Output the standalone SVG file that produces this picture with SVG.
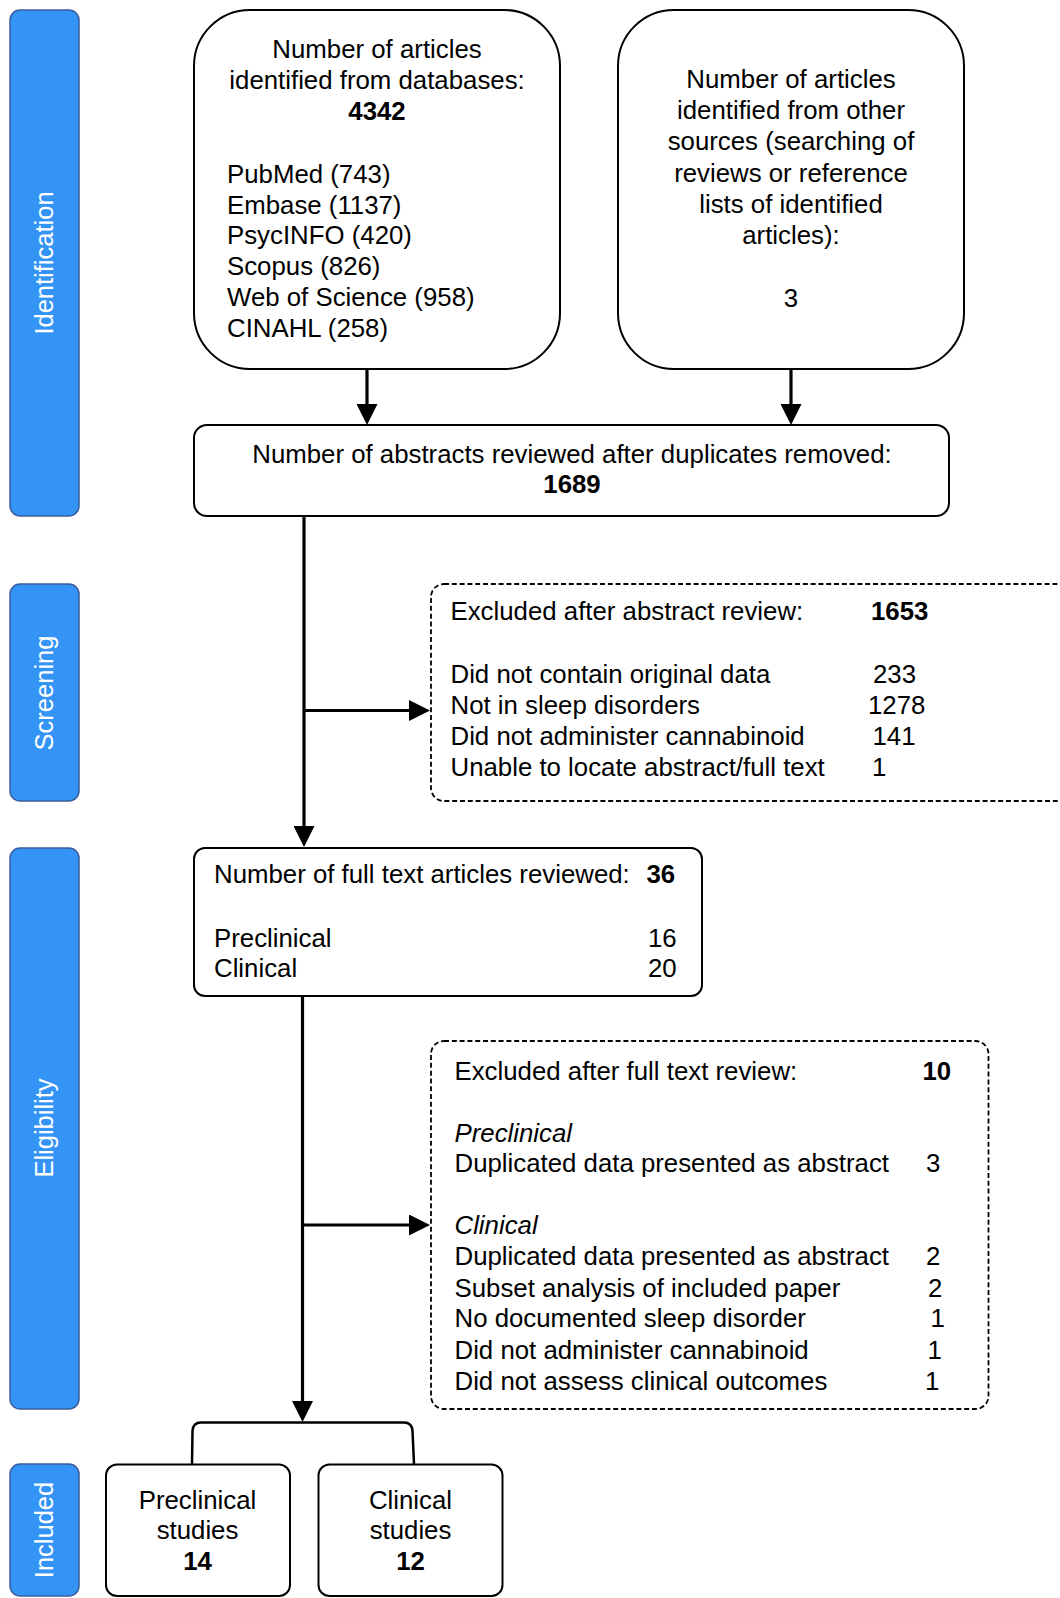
<svg xmlns="http://www.w3.org/2000/svg" width="1060" height="1598" viewBox="0 0 1060 1598">
<defs>
<marker id="ah" markerUnits="userSpaceOnUse" markerWidth="21" markerHeight="21" refX="0" refY="10.5" orient="auto">
<path d="M0,0 L21,10.5 L0,21 z" fill="#000"/>
</marker>
<style>
text{font-family:"Liberation Sans",Arial,Helvetica,sans-serif;font-size:25.8px;fill:#000}
.c{text-anchor:middle}
.b{font-weight:bold}
.i{font-style:italic}
.lane rect{fill:#3494f6;stroke:#3a5c9c;stroke-width:1.5}
.lane text{fill:#fff;text-anchor:middle;font-size:25.5px}
.box{fill:#fff;stroke:#000;stroke-width:2}
.dash{fill:#fff;stroke:#000;stroke-width:1.8;stroke-dasharray:5 2.8}
.arr{stroke:#000;stroke-width:3.2;fill:none;marker-end:url(#ah)}
.br{stroke:#000;stroke-width:2.5;fill:none}
</style>
</defs>
<rect width="1060" height="1598" fill="#fff"/>

<g id="lane-identification" class="lane">
<rect x="10" y="10" width="69" height="506" rx="10"/>
<text transform="translate(53,263) rotate(-90)">Identification</text>
</g>
<g id="lane-screening" class="lane">
<rect x="10" y="584" width="69" height="217" rx="10"/>
<text transform="translate(53,693) rotate(-90)">Screening</text>
</g>
<g id="lane-eligibility" class="lane">
<rect x="10" y="848" width="69" height="561" rx="10"/>
<text transform="translate(53,1128) rotate(-90)">Eligibility</text>
</g>
<g id="lane-included" class="lane">
<rect x="10" y="1464" width="69" height="132" rx="10"/>
<text transform="translate(53,1530) rotate(-90)">Included</text>
</g>

<g id="connectors">
<line class="arr" x1="367" y1="369" x2="367" y2="404"/>
<line class="arr" x1="791" y1="369" x2="791" y2="404"/>
<line class="arr" x1="304" y1="516" x2="304" y2="826"/>
<line class="arr" x1="304" y1="710.5" x2="409" y2="710.5"/>
<line class="arr" x1="302.5" y1="996" x2="302.5" y2="1401"/>
<line class="arr" x1="302.5" y1="1225" x2="409" y2="1225"/>
<path class="br" d="M192,1464 L192.5,1431 Q193,1422.5 201,1422.5 L404,1422.5 Q412,1422.5 412.5,1431 L414,1464"/>
</g>

<g id="node-databases">
<rect class="box" x="194" y="10" width="366" height="359" rx="56"/>
<text class="c" x="377" y="58">Number of articles</text>
<text class="c" x="377" y="88.5">identified from databases:</text>
<text class="c b" x="377" y="120">4342</text>
<text x="227" y="182.5">PubMed (743)</text>
<text x="227" y="213.5">Embase (1137)</text>
<text x="227" y="244.3">PsycINFO (420)</text>
<text x="227" y="275.2">Scopus (826)</text>
<text x="227" y="306.1">Web of Science (958)</text>
<text x="227" y="337">CINAHL (258)</text>
</g>

<g id="node-other">
<rect class="box" x="618" y="10" width="346" height="359" rx="56"/>
<text class="c" x="791" y="88.3">Number of articles</text>
<text class="c" x="791" y="118.8">identified from other</text>
<text class="c" x="791" y="150">sources (searching of</text>
<text class="c" x="791" y="181.5">reviews or reference</text>
<text class="c" x="791" y="213">lists of identified</text>
<text class="c" x="791" y="244">articles):</text>
<text class="c" x="791" y="306.5">3</text>
</g>

<g id="node-abstracts">
<rect class="box" x="194" y="425" width="755" height="91" rx="13"/>
<text class="c" x="572" y="463.3">Number of abstracts reviewed after duplicates removed:</text>
<text class="c b" x="572" y="493.3">1689</text>
</g>

<g id="node-excluded-abstract">
<rect class="dash" x="431" y="584" width="650" height="217" rx="13"/>
<text x="450.5" y="620">Excluded after abstract review:</text>
<text class="b" x="871" y="620">1653</text>
<text x="450.5" y="683.3">Did not contain original data</text>
<text x="873" y="683.3">233</text>
<text x="450.5" y="713.8">Not in sleep disorders</text>
<text x="868" y="713.8">1278</text>
<text x="450.5" y="745">Did not administer cannabinoid</text>
<text x="872.5" y="745">141</text>
<text x="450.5" y="775.5">Unable to locate abstract/full text</text>
<text x="872" y="775.5">1</text>
</g>

<g id="node-fulltext">
<rect class="box" x="194" y="848" width="508" height="148" rx="11"/>
<text x="214" y="883.3">Number of full text articles reviewed:</text>
<text class="b" x="646.5" y="883.3">36</text>
<text x="214" y="946.5">Preclinical</text>
<text x="648" y="946.5">16</text>
<text x="214" y="977">Clinical</text>
<text x="648" y="977">20</text>
</g>

<g id="node-excluded-fulltext">
<rect class="dash" x="431" y="1041" width="557.5" height="368" rx="13"/>
<text x="454.5" y="1079.5">Excluded after full text review:</text>
<text class="b" x="922.5" y="1079.5">10</text>
<text class="i" x="454.5" y="1141.5">Preclinical</text>
<text x="454.5" y="1172">Duplicated data presented as abstract</text>
<text x="926" y="1172">3</text>
<text class="i" x="454.5" y="1234">Clinical</text>
<text x="454.5" y="1265">Duplicated data presented as abstract</text>
<text x="926" y="1265">2</text>
<text x="454.5" y="1296.5">Subset analysis of included paper</text>
<text x="928" y="1296.5">2</text>
<text x="454.5" y="1327">No documented sleep disorder</text>
<text x="930.5" y="1327">1</text>
<text x="454.5" y="1358.5">Did not administer cannabinoid</text>
<text x="927.5" y="1358.5">1</text>
<text x="454.5" y="1389.5">Did not assess clinical outcomes</text>
<text x="925" y="1389.5">1</text>
</g>

<g id="node-preclinical-studies">
<rect class="box" x="106" y="1464.5" width="184" height="131.5" rx="11"/>
<text class="c" x="197.5" y="1508.5">Preclinical</text>
<text class="c" x="197.5" y="1538.5">studies</text>
<text class="c b" x="197.5" y="1569.5">14</text>
</g>

<g id="node-clinical-studies">
<rect class="box" x="318.5" y="1464.5" width="184" height="131.5" rx="11"/>
<text class="c" x="410.5" y="1508.5">Clinical</text>
<text class="c" x="410.5" y="1538.5">studies</text>
<text class="c b" x="410.5" y="1569.5">12</text>
</g>
</svg>
